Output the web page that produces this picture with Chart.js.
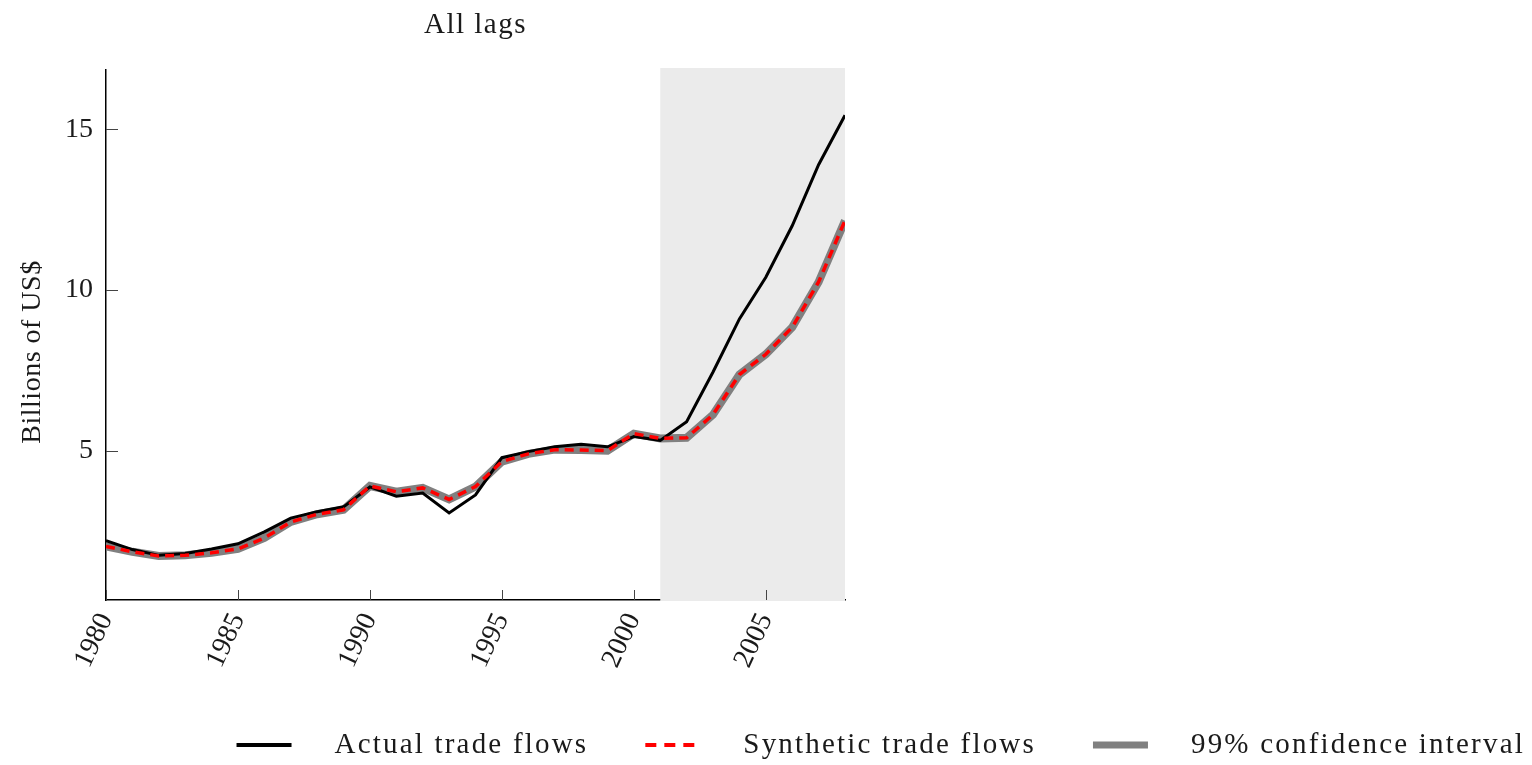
<!DOCTYPE html>
<html>
<head>
<meta charset="utf-8">
<script src="https://cdn.jsdelivr.net/npm/chart.js@4.4.0/dist/chart.umd.min.js"></script>
<style>
html, body { margin: 0; padding: 0; background: #fff; }
#wrap { width: 1532px; height: 765px; }
</style>
</head>
<body>
<div id="wrap"><canvas id="tradeChart"></canvas></div>
<script>
// data
var years = [1980, 1981, 1982, 1983, 1984, 1985, 1986, 1987, 1988, 1989,
             1990, 1991, 1992, 1993, 1994, 1995, 1996, 1997, 1998, 1999,
             2000, 2001, 2002, 2003, 2004, 2005, 2006, 2007, 2008];
var actualFlows = [2.20, 1.92, 1.74, 1.80, 1.94, 2.10, 2.47, 2.90, 3.10, 3.25,
                   3.87, 3.58, 3.68, 3.06, 3.62, 4.78, 4.97, 5.12, 5.20, 5.12,
                   5.44, 5.32, 5.90, 7.45, 9.10, 10.40, 12.00, 13.90, 15.44];
var syntheticFlows = [2.02, 1.85, 1.72, 1.74, 1.82, 1.94, 2.28, 2.78, 3.02, 3.16,
                      3.90, 3.72, 3.84, 3.48, 3.88, 4.66, 4.90, 5.03, 5.02, 5.00,
                      5.53, 5.38, 5.40, 6.12, 7.37, 8.00, 8.84, 10.25, 12.16];
// confidence band is about as wide as the gray stroke, drawn on the synthetic path
var ciCentre = syntheticFlows;
var xTicks = [1980, 1985, 1990, 1995, 2000, 2005];
var yTicks = [5, 10, 15];
var shadeFrom = 2001, shadeTo = 2008;
var titleText = 'All lags';
var yTitle = 'Billions of US$';
var legendLabels = ['Actual trade flows', 'Synthetic trade flows', '99% confidence interval'];

var FONT = '"Liberation Serif", "DejaVu Serif", serif';
var TXT = '#1a1a1a';

function pts(vals) {
    return years.map(function (y, i) { return { x: y, y: vals[i] }; });
}

// shading + inner ticks
var shadePlugin = {
    id: 'shade',
    beforeDatasetsDraw: function (chart) {
        var ctx = chart.ctx, a = chart.chartArea;
        var xs = chart.scales.x, ys = chart.scales.y;
        var x0 = xs.getPixelForValue(shadeFrom), x1 = xs.getPixelForValue(shadeTo);
        ctx.save();
        ctx.fillStyle = '#ebebeb';
        ctx.fillRect(x0, a.top - 2, x1 - x0, a.bottom - a.top + 3);
        ctx.strokeStyle = '#444';
        ctx.lineWidth = 1;
        ctx.beginPath();
        xs.ticks.forEach(function (t) {
            var px = Math.round(xs.getPixelForValue(t.value)) + 0.5;
            ctx.moveTo(px, a.bottom);
            ctx.lineTo(px, a.bottom - 10);
        });
        ys.ticks.forEach(function (t) {
            var py = Math.round(ys.getPixelForValue(t.value)) + 0.5;
            ctx.moveTo(a.left, py);
            ctx.lineTo(a.left + 12, py);
        });
        ctx.stroke();
        ctx.restore();
    }
};

// title, y axis title and the legend strip at the bottom
var textPlugin = {
    id: 'texts',
    afterDraw: function (chart) {
        var ctx = chart.ctx, a = chart.chartArea;
        ctx.save();
        ctx.fillStyle = TXT;
        ctx.font = '29px ' + FONT;
        ctx.letterSpacing = '1.5px';
        ctx.textAlign = 'center';
        ctx.textBaseline = 'middle';
        ctx.fillText(titleText, (a.left + a.right) / 2, 25);

        ctx.save();
        ctx.translate(33, 352);
        ctx.rotate(-Math.PI / 2);
        ctx.letterSpacing = '0.5px';
        ctx.font = '28px ' + FONT;
        ctx.fillText(yTitle, 0, 0);
        ctx.restore();

        var ds = chart.data.datasets;
        var right = chart.width - 7, y = 745;
        ctx.textAlign = 'left';
        ctx.letterSpacing = '2.2px';
        for (var i = ds.length - 1; i >= 0; i--) {
            var w = ctx.measureText(ds[i].label).width;
            var tx = right - w;
            ctx.fillStyle = TXT;
            ctx.fillText(ds[i].label, tx, y);
            var lx1 = tx - 43, lx0 = lx1 - 55;
            ctx.strokeStyle = ds[i].borderColor;
            ctx.lineWidth = ds[i].legendWidth;
            ctx.setLineDash(ds[i].legendDash || []);
            ctx.beginPath();
            ctx.moveTo(lx0, y);
            ctx.lineTo(lx1, y);
            ctx.stroke();
            ctx.setLineDash([]);
            right = lx0 - 57;
        }
        ctx.restore();
    }
};

var ctx = document.getElementById('tradeChart');
new Chart(ctx, {
    type: 'line',
    data: {
        datasets: [{
            label: legendLabels[0],
            data: pts(actualFlows),
            borderColor: '#000000',
            borderWidth: 3,
            legendWidth: 4,
            pointRadius: 0,
            tension: 0,
            order: 1
        }, {
            label: legendLabels[1],
            data: pts(syntheticFlows),
            borderColor: '#ff0000',
            borderWidth: 3.5,
            borderDash: [9, 6],
            legendDash: [11, 8],
            legendWidth: 4,
            pointRadius: 0,
            tension: 0,
            order: 0
        }, {
            label: legendLabels[2],
            data: pts(ciCentre),
            borderColor: '#808080',
            borderWidth: 8,
            legendWidth: 7,
            pointRadius: 0,
            tension: 0,
            order: 2
        }]
    },
    options: {
        responsive: true,
        maintainAspectRatio: false,
        animation: false,
        layout: { padding: { top: 70, right: 687, bottom: 0, left: 0 } },
        plugins: {
            legend: { display: false },
            title: { display: false },
            tooltip: { enabled: false }
        },
        scales: {
            x: {
                type: 'linear',
                min: 1980,
                max: 2008,
                afterBuildTicks: function (s) { s.ticks = xTicks.map(function (v) { return { value: v }; }); },
                afterFit: function (s) { s.height = 165; },
                grid: { drawOnChartArea: false, drawTicks: false },
                border: { display: true, color: '#000', width: 1.5 },
                ticks: {
                    autoSkip: false,
                    minRotation: 65,
                    maxRotation: 65,
                    padding: 8,
                    color: TXT,
                    font: { family: FONT, size: 28 },
                    callback: function (v) { return String(v); }
                }
            },
            y: {
                type: 'linear',
                min: 0.35,
                max: 16.85,
                afterBuildTicks: function (s) { s.ticks = yTicks.map(function (v) { return { value: v }; }); },
                afterFit: function (s) { s.width = 106; },
                grid: { drawOnChartArea: false, drawTicks: false },
                border: { display: true, color: '#000', width: 1.5 },
                ticks: {
                    padding: 13,
                    color: TXT,
                    font: { family: FONT, size: 28 }
                }
            }
        }
    },
    plugins: [shadePlugin, textPlugin]
});
</script>
</body>
</html>
